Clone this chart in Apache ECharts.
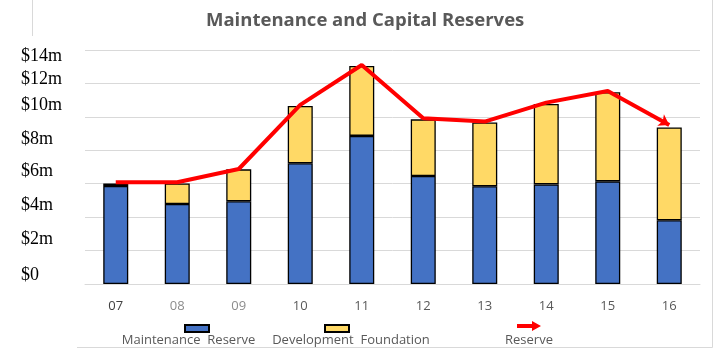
<!DOCTYPE html>
<html>
<head>
<meta charset="utf-8">
<script src="https://cdn.jsdelivr.net/npm/echarts@6/dist/echarts.min.js"></script>
<style>html,body{margin:0;padding:0;background:#fff}#c{width:726px;height:356px}</style>
</head>
<body>
<div id="c"></div>
<script>
// ---- data ----
const categories = ['07','08','09','10','11','12','13','14','15','16'];
const maintenanceReserve = [5.86, 4.79, 4.95, 7.22, 8.86, 6.46, 5.85, 5.96, 6.14, 3.81];
const developmentFoundation = [0.16, 1.23, 1.91, 3.43, 4.19, 3.39, 3.81, 4.81, 5.33, 5.56];
const reserveLine = [6.09, 6.09, 6.88, 10.72, 13.1, 9.91, 9.72, 10.85, 11.55, 9.51];
const yTickLabels = ['$0','$2m','$4m','$6m','$8m','$10m','$12m','$14m'];
const seriesNames = ['Maintenance  Reserve','Development  Foundation','Reserve'];
const chartTitle = 'Maintenance and Capital Reserves';

// ---- styling (positions/offsets separate from data) ----
const yLabelShift = [-9, -11, -12, -12, -11, -12, -4, 6]; // px, negative = up
const xLabelColors = ['#404040','#8c8c8c','#8c8c8c','#595959','#595959','#595959','#595959','#595959','#595959','#595959'];

const yRich = {};
yLabelShift.forEach((d, i) => {
  yRich['y' + i] = {
    fontFamily: 'Liberation Serif', fontSize: 18, color: '#000',
    padding: d < 0 ? [0, 0, -2 * d, 0] : [2 * d, 0, 0, 0]
  };
});
const xRich = {};
xLabelColors.forEach((c, i) => {
  xRich['x' + i] = { fontFamily: 'Open Sans', fontSize: 13, color: c };
});

const chart = echarts.init(document.getElementById('c'), null, { renderer: 'canvas' });
const lastIdx = reserveLine.length - 1;
chart.setOption({
  animation: false,
  backgroundColor: '#fff',
  title: {
    text: chartTitle,
    left: 206, top: 11, padding: 0,
    textStyle: { fontFamily: 'Open Sans', fontWeight: 'bold', fontSize: 18.5, color: '#595959' }
  },
  grid: { left: 85, right: 26, top: 50, bottom: 72, containLabel: false },
  legend: [
    { data: [seriesNames[0]], left: 184, top: 324, padding: 0, itemWidth: 24, itemHeight: 7, icon: 'rect', formatter: () => '', selectedMode: false },
    { data: [seriesNames[1]], left: 324, top: 324, padding: 0, itemWidth: 24, itemHeight: 7, icon: 'rect', formatter: () => '', selectedMode: false },
    { data: [seriesNames[2]], left: 517, top: 321, padding: 0, itemWidth: 24, itemHeight: 10,
      icon: 'path://M0,3 L15,3 L15,0 L24,5 L15,10 L15,7 L0,7 Z', formatter: () => '', selectedMode: false,
      itemStyle: { color: '#FF0000', borderWidth: 0 } }
  ],
  xAxis: {
    type: 'category',
    data: categories,
    boundaryGap: true,
    axisLine: { show: true, lineStyle: { color: '#d9d9d9', width: 1 } },
    axisTick: { show: false },
    axisLabel: {
      margin: 16,
      formatter: (v, i) => '{x' + i + '|' + v + '}',
      rich: xRich
    }
  },
  yAxis: {
    type: 'value',
    min: 0, max: 14, interval: 2,
    axisLine: { show: false },
    axisTick: { show: false },
    splitLine: { lineStyle: { color: '#d9d9d9', width: 1 } },
    axisLabel: {
      align: 'left',
      margin: 64,
      formatter: (v) => { const i = Math.round(v / 2); return '{y' + i + '|' + yTickLabels[i] + '}'; },
      rich: yRich
    }
  },
  series: [
    {
      name: seriesNames[0], type: 'bar', stack: 'total', barWidth: 25,
      data: maintenanceReserve,
      itemStyle: { color: '#4472C4', borderColor: '#000', borderWidth: 1.3 }
    },
    {
      name: seriesNames[1], type: 'bar', stack: 'total', barWidth: 25,
      data: developmentFoundation,
      itemStyle: { color: '#FFD966', borderColor: '#000', borderWidth: 1.3 }
    },
    {
      name: seriesNames[2], type: 'line', z: 5,
      data: reserveLine.map((v, i) => i === lastIdx
        ? { value: v, symbol: 'arrow', symbolSize: [10, 10], symbolRotate: -120 }
        : { value: v, symbol: 'none' }),
      showSymbol: true,
      lineStyle: { color: '#FF0000', width: 4 },
      itemStyle: { color: '#FF0000' }
    }
  ],
  graphic: [
    { type: 'line', shape: { x1: 32.5, y1: 0, x2: 32.5, y2: 36 }, style: { stroke: '#d9d9d9', lineWidth: 1 } },
    { type: 'line', shape: { x1: 712.5, y1: 0, x2: 712.5, y2: 347.5 }, style: { stroke: '#d9d9d9', lineWidth: 1 } },
    { type: 'line', shape: { x1: 77, y1: 347.5, x2: 712.5, y2: 347.5 }, style: { stroke: '#d9d9d9', lineWidth: 1 } },
    { type: 'text', x: 188.5, y: 340, style: { text: seriesNames[0], align: 'center', verticalAlign: 'middle', font: '13px "Open Sans"', fill: '#595959' } },
    { type: 'text', x: 351, y: 340, style: { text: seriesNames[1], align: 'center', verticalAlign: 'middle', font: '13px "Open Sans"', fill: '#595959' } },
    { type: 'text', x: 529, y: 340, style: { text: seriesNames[2], align: 'center', verticalAlign: 'middle', font: '13px "Open Sans"', fill: '#595959' } }
  ]
});
</script>
</body>
</html>
